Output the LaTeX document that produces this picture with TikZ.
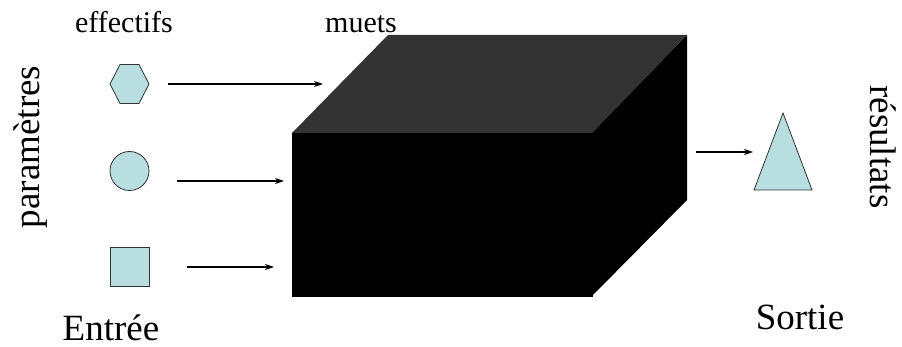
\documentclass[tikz,border=0pt]{standalone}
\usepackage{fontspec}
\setmainfont{Liberation Serif}
\usetikzlibrary{arrows.meta}
\definecolor{shapefill}{HTML}{B9DEE0}
\definecolor{topgray}{HTML}{333333}
\begin{document}
\begin{tikzpicture}[x=1pt,y=-1pt,
  shp/.style={draw=black!80,line width=0.8pt,fill=shapefill},
  arr/.style={-{Stealth[length=9pt,width=6pt]},line width=1.1pt},
  small/.style={font=\fontsize{30}{36}\selectfont,anchor=base},
  big/.style={font=\fontsize{37}{44}\selectfont}]
\useasboundingbox (0,0) rectangle (902,347);
% box
\node[fill=black,draw=black,minimum width=300pt,minimum height=163pt,inner sep=0pt,outer sep=0pt] (box) at (442,214.5) {};
\fill[topgray] (box.north west) -- (box.north east) -- ++(95,-98) -- ++(-299,0) -- cycle;
\fill[black] (box.north east) -- ++(95,-98) -- ++(0,165) -- (box.south east) -- cycle;
% hexagon
\draw[shp] (110,84) -- (120,64.5) -- (139,64.5) -- (149,84) -- (139,103.5) -- (120,103.5) -- cycle;
\node[minimum width=39pt,minimum height=39pt,inner sep=0pt,outer sep=0pt] (hex) at (129.5,84) {};
% circle
\node[shp,circle,minimum size=39pt,inner sep=0pt,outer sep=0pt] (circ) at (129.5,171) {};
% square
\node[shp,rectangle,minimum size=39pt,inner sep=0pt,outer sep=0pt] (sq) at (129.5,266.5) {};
% triangle
\draw[shp] (783,113) -- (812,190) -- (754,190) -- cycle;
\node[minimum width=58pt,minimum height=77pt,inner sep=0pt,outer sep=0pt] (tri) at (783,151.5) {};
% arrow endpoints
\coordinate (e1) at (323,84);
\coordinate (e2) at (284,181);
\coordinate (e3) at (274,267);
\draw[arr] ([xshift=19pt]hex.east) -- (e1);
\draw[arr] ([xshift=28pt,yshift=-10pt]circ.east) -- (e2);
\draw[arr] ([xshift=38pt,yshift=-0.5pt]sq.east) -- (e3);
\coordinate (o1) at (696,152);
\draw[arr] (o1) -- ([xshift=-1pt]tri.west |- o1);
% labels
\node[small] (eff) at (124,33) {effectifs};
\node[small] (mu) at (361,33) {muets};
\node[big,anchor=base] (ent) at (111,340) {Entrée};
\node[big,anchor=base] (sor) at (800,330) {Sortie};
\node[big,rotate=90] (par) at (31,147) {paramètres};
\node[big,rotate=-90] (res) at (883,147) {résultats};
\end{tikzpicture}
\end{document}
